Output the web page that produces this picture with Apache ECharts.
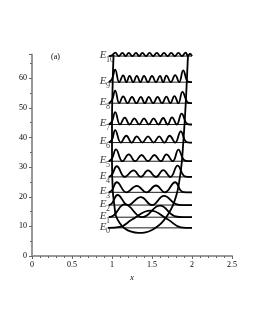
<!DOCTYPE html>
<html><head><meta charset="utf-8">
<script src="https://cdn.jsdelivr.net/npm/echarts@6/dist/echarts.min.js"></script>
<style>html,body{margin:0;padding:0;background:#fff}#c{width:255px;height:330px}</style>
</head><body><div id="c"></div>
<script>
// energy levels E0..E10
const levels = [9.5, 13.1, 17.2, 21.5, 26.7, 32.0, 38.3, 44.4, 51.6, 58.7, 67.5];
const levelSubs = ['0','1','2','3','4','5','6','7','8','9','10'];
// potential well curve
const wellX = [1.02, 1.01, 1.0, 1.0, 1.01, 1.03, 1.05, 1.1, 1.16, 1.24, 1.33, 1.42, 1.5, 1.58, 1.64, 1.7, 1.76, 1.81, 1.84, 1.87, 1.89, 1.91, 1.93, 1.95];
const wellY = [68, 60, 45, 32, 22, 17, 13.5, 11, 9.3, 8.2, 7.8, 8.0, 8.8, 10.2, 11.8, 14, 17, 21, 25, 31, 38, 46, 56, 68];
// probability densities: [x, height above level]
const wave0 = [[0.95,0],[1.1,0.3],[1.25,2.8],[1.48,5.8],[1.7,2.8],[1.86,0.2],[2.0,0]];
const wave1 = [[0.96,0],[1.02,0.6],[1.16,4.3],[1.38,0],[1.6,3.9],[1.78,0.4],[1.9,0],[2.0,0]];
const wave2 = [[0.96,0],[1.0,0.6],[1.07,3.4],[1.2,0],[1.36,2.7],[1.5,0],[1.65,3.1],[1.8,0.3],[1.88,0],[2.0,0]];
const wave3 = [[0.96,0],[1.0,0.7],[1.06,3.4],[1.18,0],[1.31,2.2],[1.43,0],[1.55,2.3],[1.66,0],[1.79,3.4],[1.87,0.3],[1.93,0],[2.0,0]];
const wave4 = [[0.96,0],[1.0,0.8],[1.06,3.6],[1.16,0],[1.27,2.2],[1.36,0],[1.45,2.2],[1.55,0],[1.64,2.3],[1.73,0],[1.82,3.8],[1.9,0.3],[1.95,0],[2.0,0]];
const wave5 = [[0.96,0],[1.0,0.9],[1.05,4.0],[1.13,0],[1.21,2.3],[1.29,0],[1.37,2.1],[1.45,0],[1.53,2.1],[1.61,0],[1.68,2.3],[1.76,0],[1.83,3.9],[1.9,0.4],[1.96,0],[2.0,0]];
const wave6 = [[0.96,0],[1.0,1.0],[1.04,4.2],[1.11,0],[1.18,2.3],[1.245,0],[1.31,2.1],[1.38,0],[1.45,2.1],[1.52,0],[1.59,2.1],[1.655,0],[1.72,2.3],[1.79,0],[1.86,3.8],[1.92,0.4],[1.97,0],[2.0,0]];
const wave7 = [[0.96,0],[1.0,1.0],[1.04,4.2],[1.1,0],[1.16,2.3],[1.22,0],[1.28,2.1],[1.34,0],[1.4,2.1],[1.46,0],[1.52,2.1],[1.58,0],[1.64,2.2],[1.695,0],[1.75,2.4],[1.81,0],[1.87,3.7],[1.93,0.4],[1.97,0],[2.0,0]];
const wave8 = [[0.96,0],[1.0,1.0],[1.04,4.2],[1.09,0],[1.14,2.3],[1.195,0],[1.25,2.1],[1.305,0],[1.36,2.1],[1.41,0],[1.46,2.1],[1.515,0],[1.57,2.1],[1.625,0],[1.68,2.2],[1.73,0],[1.78,2.4],[1.83,0],[1.88,3.8],[1.94,0.4],[1.98,0],[2.0,0]];
const wave9 = [[0.96,0],[1.0,1.0],[1.04,4.2],[1.09,0],[1.14,2.3],[1.18,0],[1.22,2.1],[1.265,0],[1.31,2.1],[1.355,0],[1.4,2.1],[1.45,0],[1.5,2.1],[1.55,0],[1.6,2.1],[1.64,0],[1.68,2.2],[1.735,0],[1.79,2.4],[1.84,0],[1.89,4.0],[1.94,0.4],[1.98,0],[2.0,0]];
const wave10 = [[0.96,0],[1.0,0.3],[1.04,1.2],[1.085,0],[1.13,1.1],[1.17,0],[1.21,1.1],[1.255,0],[1.3,1.1],[1.34,0],[1.38,1.1],[1.425,0],[1.47,1.1],[1.515,0],[1.56,1.1],[1.605,0],[1.65,1.1],[1.695,0],[1.74,1.1],[1.785,0],[1.83,1.1],[1.875,0],[1.92,1.2],[1.95,0],[1.975,0.8],[2.0,0]];
const waves = [wave0, wave1, wave2, wave3, wave4, wave5, wave6, wave7, wave8, wave9, wave10];
const xTicks = {min: 0, max: 2.5, interval: 0.5};
const yTicks = {min: 0, max: 68, interval: 10};

const serif = "'Liberation Serif','DejaVu Serif',serif";
const series = [];
series.push({type:'line', data: wellX.map((x,i)=>[x, wellY[i]]), smooth: 0.4, symbol:'none', clip:false,
  lineStyle:{color:'#000', width:1.8}, z:3});
levels.forEach((E, i) => {
  series.push({type:'line', data: [[0.96, E],[2.0, E]], symbol:'none', clip:false,
    lineStyle:{color:'#000', width:0.9}, z:2});
  series.push({type:'line', data: waves[i].map(p => [p[0], E + p[1]]), smooth: 0.45, symbol:'none', clip:false,
    lineStyle:{color:'#000', width:1.8}, z:4});
});
series.push({type:'scatter', symbolSize:0, clip:false, data: levels.map(E => [0.93, E]),
  label:{show:true, position:'left', distance:0, offset:[0,-1], formatter:'E', fontFamily:serif, fontStyle:'italic', fontSize:11, color:'#000'}});
series.push({type:'scatter', symbolSize:0, clip:false, data: levels.map((E,i) => [0.93, E]),
  label:{show:true, position:'right', distance:0, offset:[-0.5,3.5], formatter: p => levelSubs[p.dataIndex], fontFamily:serif, fontSize:8, color:'#000'}});

const chart = echarts.init(document.getElementById('c'), null, {renderer:'canvas'});
chart.setOption({
  animation:false,
  backgroundColor:'#fff',
  grid:{left:32, right:23, top:54.6, bottom:74, containLabel:false, outerBoundsMode:'none'},
  xAxis:{type:'value', min:xTicks.min, max:xTicks.max, interval:xTicks.interval,
    name:'x', nameLocation:'middle', nameGap:11, nameTextStyle:{fontFamily:serif, fontStyle:'italic', fontSize:8, color:'#000'},
    axisLine:{lineStyle:{color:'#999', width:2}},
    axisTick:{show:true, length:3, lineStyle:{color:'#666', width:1}},
    minorTick:{show:true, splitNumber:5, length:2, lineStyle:{color:'#666', width:1}},
    splitLine:{show:false},
    axisLabel:{fontFamily:serif, fontSize:8, color:'#000', margin:5}},
  yAxis:{type:'value', min:yTicks.min, max:yTicks.max, interval:yTicks.interval,
    axisLine:{show:true, lineStyle:{color:'#999', width:2}},
    axisTick:{show:true, length:3, lineStyle:{color:'#666', width:1}},
    minorTick:{show:true, splitNumber:2, length:2, lineStyle:{color:'#666', width:1}},
    splitLine:{show:false},
    axisLabel:{fontFamily:serif, fontSize:8, color:'#000', margin:5, showMaxLabel:false,
      formatter: v => (v % 10 === 0 ? String(v) : '')}},
  graphic:[{type:'text', left:51, top:53, style:{text:'(a)', font:"8px 'Liberation Serif', serif", fill:'#000'}}],
  series: series
});
</script></body></html>
